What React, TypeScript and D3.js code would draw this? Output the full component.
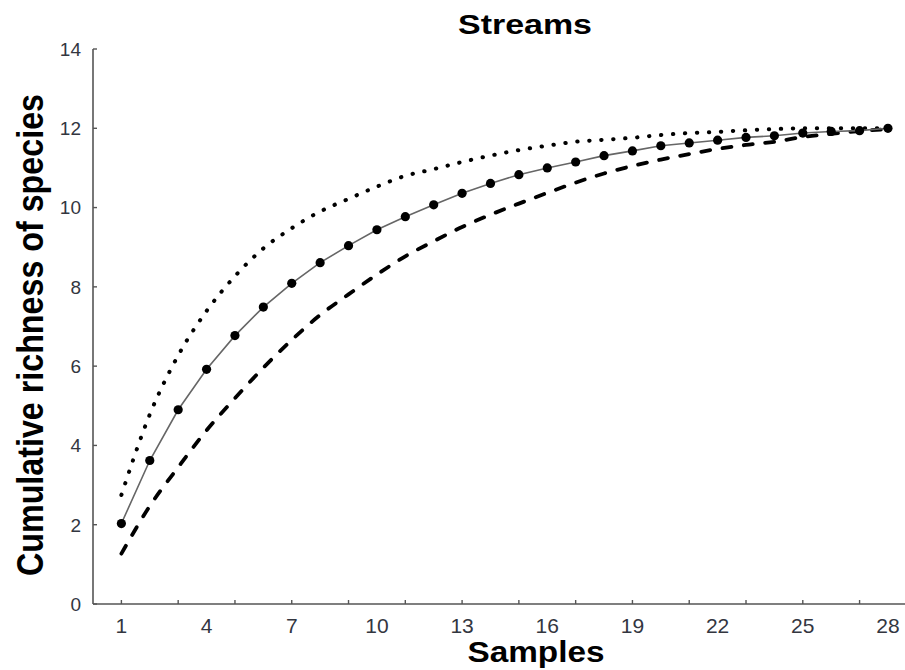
import React, { useEffect, useRef } from 'react';
import * as d3 from 'd3';

// samples on the x axis
const samples = [1, 2, 3, 4, 5, 6, 7, 8, 9, 10, 11, 12, 13, 14, 15, 16, 17, 18, 19, 20, 21, 22, 23, 24, 25, 26, 27, 28];
// observed cumulative richness (solid line with dots)
const observed = [2.03, 3.62, 4.9, 5.92, 6.77, 7.49, 8.09, 8.61, 9.04, 9.44, 9.77, 10.07, 10.36, 10.61, 10.83, 11.0, 11.15, 11.31, 11.43, 11.56, 11.63, 11.7, 11.77, 11.81, 11.88, 11.92, 11.94, 12.0];
// upper bound (dotted)
const upper = [2.75, 4.78, 6.27, 7.39, 8.27, 8.97, 9.48, 9.9, 10.22, 10.53, 10.8, 10.97, 11.15, 11.31, 11.45, 11.56, 11.66, 11.71, 11.76, 11.83, 11.88, 11.91, 11.95, 11.98, 12.0, 12.0, 12.0, 12.0];
// lower bound (dashed)
const lower = [1.27, 2.47, 3.45, 4.38, 5.19, 5.96, 6.66, 7.29, 7.81, 8.31, 8.77, 9.15, 9.51, 9.82, 10.1, 10.37, 10.63, 10.86, 11.05, 11.21, 11.35, 11.48, 11.58, 11.66, 11.78, 11.86, 11.93, 11.98];

const xTickLabels = [1, 4, 7, 10, 13, 16, 19, 22, 25, 28];
const xTickMarks = [1, 3, 5, 7, 9, 11, 13, 15, 17, 19, 21, 23, 25, 27];
const yTicks = [0, 2, 4, 6, 8, 10, 12, 14];

const title = 'Streams';
const xTitle = 'Samples';
const yTitle = 'Cumulative richness of species';

const W = 905, H = 670;
const font = "'Liberation Sans', Arial, sans-serif";

export default function App() {
  const ref = useRef<SVGGElement | null>(null);

  useEffect(() => {
    const g = d3.select(ref.current);
    g.selectAll('*').remove();

    const x = d3.scaleLinear().domain([0, 28.6]).range([93, 905]);
    const y = d3.scaleLinear().domain([0, 14]).range([604, 49]);
    const axisColor = '#555';

    // axes lines
    g.append('line').attr('x1', x(0)).attr('x2', x(28.6)).attr('y1', y(0)).attr('y2', y(0))
      .attr('stroke', axisColor).attr('stroke-width', 1.6);
    g.append('line').attr('x1', x(0)).attr('x2', x(0)).attr('y1', y(0)).attr('y2', y(14))
      .attr('stroke', axisColor).attr('stroke-width', 1.6);

    // y ticks (inward)
    g.selectAll('line.ytick').data(yTicks).enter().append('line')
      .attr('class', 'ytick')
      .attr('x1', x(0)).attr('x2', x(0) + 4)
      .attr('y1', d => y(d)).attr('y2', d => y(d))
      .attr('stroke', axisColor).attr('stroke-width', 1.4);
    g.selectAll('text.ylab').data(yTicks).enter().append('text')
      .attr('class', 'ylab')
      .attr('x', 81).attr('y', d => y(d))
      .attr('dy', '0.36em')
      .attr('text-anchor', 'end')
      .style('font-family', font).style('font-size', '19px').attr('fill', '#33363f')
      .text(d => d);

    // x ticks (inward)
    g.selectAll('line.xtick').data(xTickMarks).enter().append('line')
      .attr('class', 'xtick')
      .attr('x1', d => x(d)).attr('x2', d => x(d))
      .attr('y1', y(0)).attr('y2', y(0) - 4)
      .attr('stroke', axisColor).attr('stroke-width', 1.4);
    g.selectAll('text.xlab').data(xTickLabels).enter().append('text')
      .attr('class', 'xlab')
      .attr('x', d => x(d)).attr('y', 633)
      .attr('text-anchor', 'middle')
      .style('font-family', font).style('font-size', '21px').attr('fill', '#33363f')
      .text(d => d);

    const line = (vals: number[], curve: d3.CurveFactory) =>
      d3.line<number>().x((d, i) => x(samples[i])).y(d => y(d)).curve(curve)(vals);

    // upper dotted
    g.append('path').attr('d', line(upper, d3.curveMonotoneX))
      .attr('fill', 'none').attr('stroke', '#000').attr('stroke-width', 4)
      .attr('stroke-linecap', 'round').attr('stroke-dasharray', '0.4 11.6');

    // lower dashed
    g.append('path').attr('d', line(lower, d3.curveMonotoneX))
      .attr('fill', 'none').attr('stroke', '#000').attr('stroke-width', 3.8)
      .attr('stroke-linecap', 'round').attr('stroke-dasharray', '9 12.5');

    // observed
    g.append('path').attr('d', line(observed, d3.curveLinear))
      .attr('fill', 'none').attr('stroke', '#666').attr('stroke-width', 1.6);
    g.selectAll('circle.pt').data(observed).enter().append('circle')
      .attr('class', 'pt')
      .attr('cx', (d, i) => x(samples[i])).attr('cy', d => y(d))
      .attr('r', 4.6).attr('fill', '#000');
  }, []);

  return (
    <svg width={W} height={H} style={{ position: 'absolute', left: 0, top: 0, background: '#fff' }}>
      <g ref={ref} />
      <text x={525} y={34} textAnchor="middle" textLength={134} lengthAdjust="spacingAndGlyphs"
        style={{ fontFamily: font, fontWeight: 'bold', fontSize: 28, fill: '#000' }}>{title}</text>
      <text x={536} y={662} textAnchor="middle" textLength={137} lengthAdjust="spacingAndGlyphs"
        style={{ fontFamily: font, fontWeight: 'bold', fontSize: 30, fill: '#000' }}>{xTitle}</text>
      <text transform="translate(43,335) scale(1.17,1) rotate(-90)" textAnchor="middle" textLength={482}
        lengthAdjust="spacingAndGlyphs"
        style={{ fontFamily: font, fontWeight: 'bold', fontSize: 32, fill: '#000' }}>{yTitle}</text>
    </svg>
  );
}
